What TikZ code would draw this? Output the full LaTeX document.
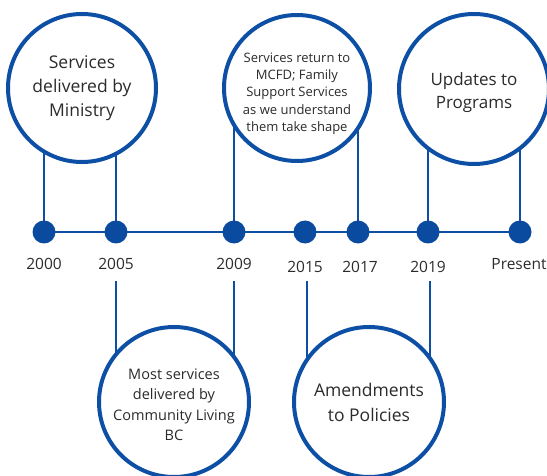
\documentclass[tikz,border=0pt]{standalone}
\usepackage{fontspec}
\setmainfont{Open Sans}
\usetikzlibrary{backgrounds}
\definecolor{tlblue}{HTML}{0E4FA6}
\definecolor{dotblue}{HTML}{0A4A9F}
\definecolor{txt}{HTML}{2B2B2B}
\newcommand{\lowtext}[2]{\raisebox{#1}[0pt][0pt]{\begin{tabular}{@{}c@{}}#2\end{tabular}}}
\tikzset{
  bigcirc/.style={circle,draw=tlblue,line width=4pt,fill=white,inner sep=0pt,align=center,text=txt},
  tdot/.style={circle,fill=dotblue,inner sep=0pt,minimum size=23pt},
  yearlbl/.style={text=txt,font=\fontsize{15.5}{17}\selectfont},
  link/.style={draw=tlblue,line width=2pt},
  axis/.style={draw=tlblue,line width=2.5pt}
}
\begin{document}
\begin{tikzpicture}[x=1pt,y=1pt]
\useasboundingbox (0,0) rectangle (547,475);
% dots
\node[tdot] (d1) at (44,243) {};
\node[tdot] (d2) at (116,243) {};
\node[tdot] (d3) at (234,243) {};
\node[tdot] (d4) at (305,243) {};
\node[tdot] (d5) at (358,243) {};
\node[tdot] (d6) at (428,243) {};
\node[tdot] (d7) at (520,243) {};
% circles
\node[bigcirc,minimum size=148pt,font=\fontsize{17.5}{24}\selectfont] (c1) at (82,387) {\lowtext{-4.5pt}{Services\\delivered by\\Ministry}};
\node[bigcirc,minimum size=146pt,font=\fontsize{13}{17.5}\selectfont] (c2) at (297,387) {\lowtext{-8.5pt}{Services return to\\MCFD; Family\\Support Services\\as we understand\\them take shape}};
\node[bigcirc,minimum size=150pt,font=\fontsize{17}{23}\selectfont] (c3) at (474,386) {\lowtext{-7.5pt}{Updates to\\Programs}};
\node[bigcirc,minimum size=150pt,font=\fontsize{14.5}{20.5}\selectfont] (c4) at (174,73) {\lowtext{-7.5pt}{Most services\\delivered by\\Community Living\\BC}};
\node[bigcirc,minimum size=150pt,font=\fontsize{17.5}{25}\selectfont] (c5) at (369,73) {Amendments\\to Policies};
% year labels
\node[yearlbl] (y1) at (44,211) {2000};
\node[yearlbl] (y2) at (116,211) {2005};
\node[yearlbl] (y3) at (234,211) {2009};
\node[yearlbl] (y4) at (305,208) {2015};
\node[yearlbl] (y5) at (360,208) {2017};
\node[yearlbl] (y6) at (428,208) {2019};
\node[yearlbl] (y7) at (519,211) {Present};
% free ends of lower connectors
\coordinate (b2) at (116,194);
\coordinate (b3) at (234,194);
\coordinate (b4) at (307,194);
\coordinate (b6) at (430,194);
\begin{scope}[on background layer]
\draw[axis] (d1.center) -- (d7.center);
\draw[link] (d1.center) -- (d1 |- c1.center);
\draw[link] (d2.center) -- (d2 |- c1.center);
\draw[link] (d3.center) -- (d3 |- c2.center);
\draw[link] (d5.center) -- (d5 |- c2.center);
\draw[link] (d6.center) -- (d6 |- c3.center);
\draw[link] (d7.center) -- (d7 |- c3.center);
\draw[link] (b2) -- (b2 |- c4.center);
\draw[link] (b3) -- (b3 |- c4.center);
\draw[link] (b4) -- (b4 |- c5.center);
\draw[link] (b6) -- (b6 |- c5.center);
\end{scope}
\end{tikzpicture}
\end{document}
